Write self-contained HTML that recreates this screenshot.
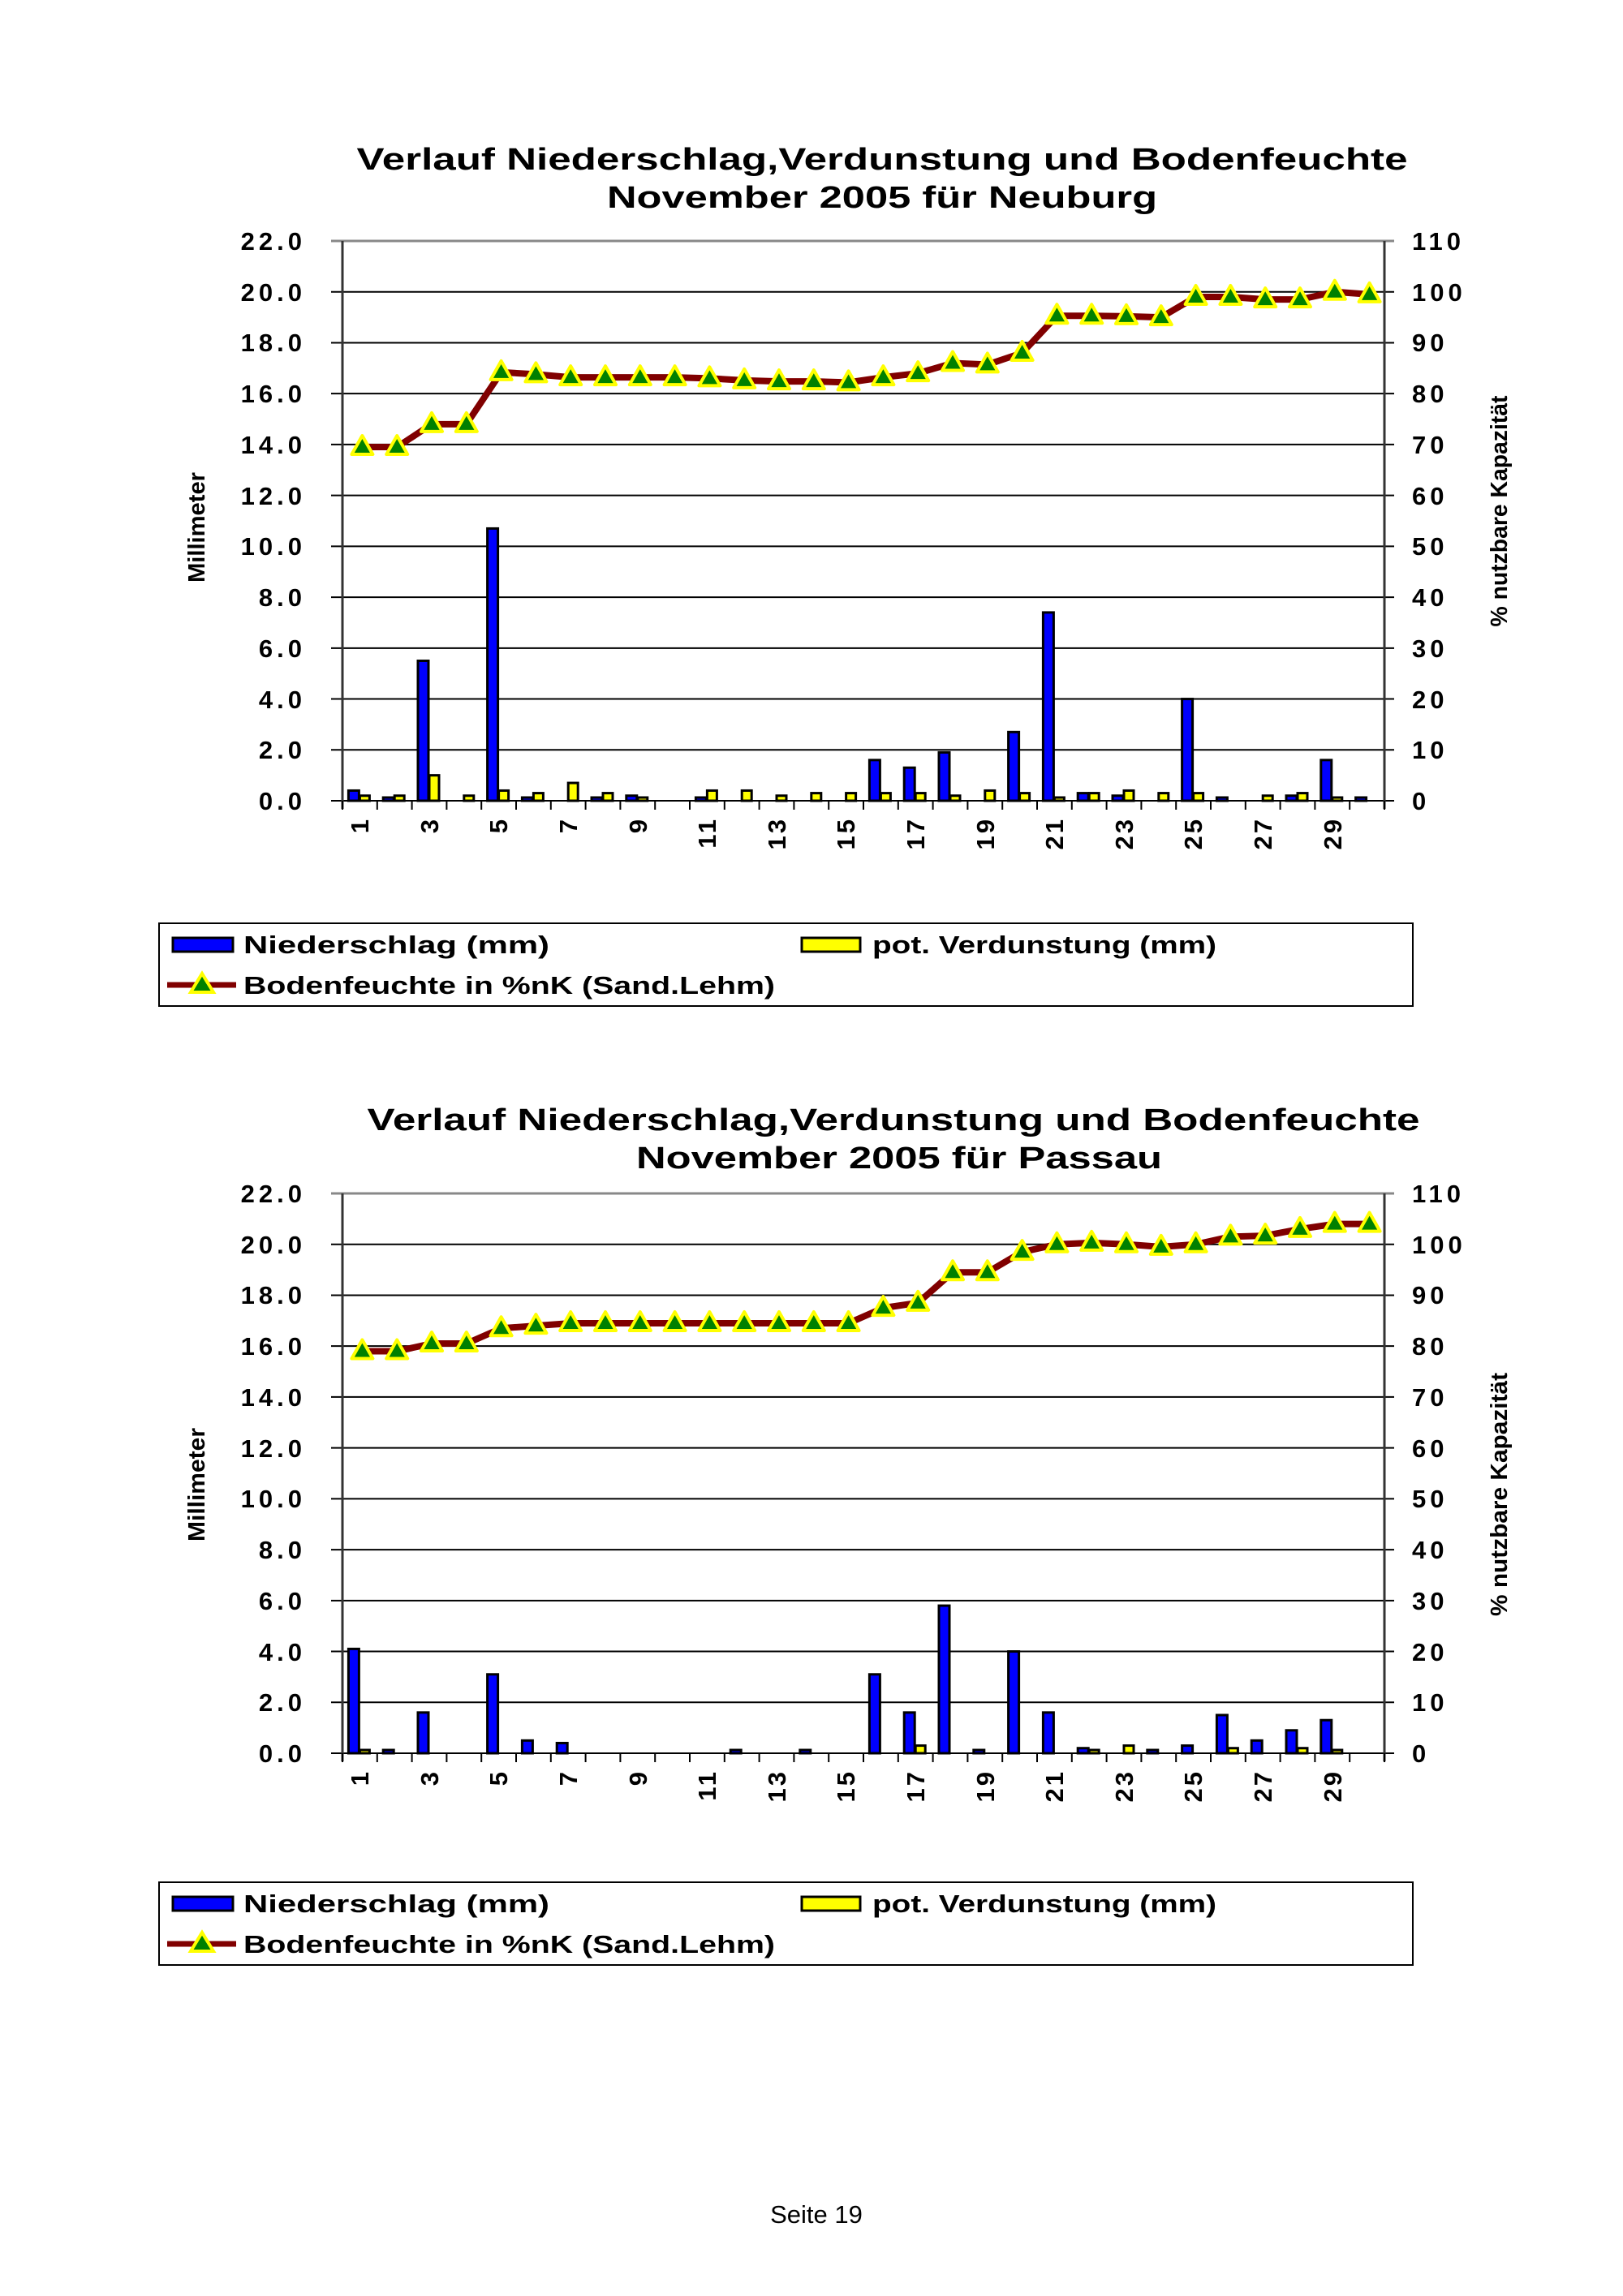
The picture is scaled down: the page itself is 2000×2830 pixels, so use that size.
<!DOCTYPE html>
<html><head><meta charset="utf-8">
<style>
html,body{margin:0;padding:0;background:#fff;}
svg{display:block;}
text{font-family:"Liberation Sans",Arial,sans-serif;}
.b{font-weight:bold;font-size:31px;fill:#000;letter-spacing:5px;}
.r{font-weight:bold;font-size:29px;fill:#000;}
.t{font-weight:bold;font-size:38px;fill:#000;}
.lg{font-weight:bold;font-size:31px;fill:#000;}
</style></head>
<body>
<svg id="s" width="2000" height="2830" viewBox="0 0 2000 2830" xmlns="http://www.w3.org/2000/svg">
<rect width="2000" height="2830" fill="#fff"/>
<g id="c1"></g>
<g id="c2"></g>

<text class="t" x="1087" y="209" text-anchor="middle" textLength="1295" lengthAdjust="spacingAndGlyphs">Verlauf Niederschlag,Verdunstung und Bodenfeuchte</text>
<text class="t" x="1087" y="256" text-anchor="middle" textLength="678" lengthAdjust="spacingAndGlyphs">November 2005 für Neuburg</text>
<g class="b" text-anchor="end">
<text x="377" y="308">22.0</text><text x="377" y="371">20.0</text><text x="377" y="433">18.0</text><text x="377" y="496">16.0</text><text x="377" y="559">14.0</text><text x="377" y="622">12.0</text><text x="377" y="684">10.0</text><text x="377" y="747">8.0</text><text x="377" y="810">6.0</text><text x="377" y="873">4.0</text><text x="377" y="935">2.0</text><text x="377" y="998">0.0</text>
</g>
<g class="b">
<text x="1740" y="308">110</text><text x="1740" y="371">100</text><text x="1740" y="433">90</text><text x="1740" y="496">80</text><text x="1740" y="559">70</text><text x="1740" y="622">60</text><text x="1740" y="684">50</text><text x="1740" y="747">40</text><text x="1740" y="810">30</text><text x="1740" y="873">20</text><text x="1740" y="935">10</text><text x="1740" y="998">0</text>
</g>
<text class="r" transform="translate(252,650) rotate(-90)" text-anchor="middle" textLength="136" lengthAdjust="spacingAndGlyphs">Millimeter</text>
<text class="r" transform="translate(1857,630) rotate(-90)" text-anchor="middle" textLength="285" lengthAdjust="spacingAndGlyphs">% nutzbare Kapazität</text>
<g class="b" text-anchor="end" style="letter-spacing:3px">
<text transform="translate(454,1007) rotate(-90)">1</text>
<text transform="translate(540,1007) rotate(-90)">3</text>
<text transform="translate(625,1007) rotate(-90)">5</text>
<text transform="translate(711,1007) rotate(-90)">7</text>
<text transform="translate(797,1007) rotate(-90)">9</text>
<text transform="translate(882,1007) rotate(-90)">11</text>
<text transform="translate(968,1007) rotate(-90)">13</text>
<text transform="translate(1053,1007) rotate(-90)">15</text>
<text transform="translate(1139,1007) rotate(-90)">17</text>
<text transform="translate(1225,1007) rotate(-90)">19</text>
<text transform="translate(1310,1007) rotate(-90)">21</text>
<text transform="translate(1396,1007) rotate(-90)">23</text>
<text transform="translate(1481,1007) rotate(-90)">25</text>
<text transform="translate(1567,1007) rotate(-90)">27</text>
<text transform="translate(1653,1007) rotate(-90)">29</text>
</g>
<g id="lg1">
<rect x="196" y="1138" width="1545" height="102" fill="none" stroke="#000" stroke-width="2"/>
<rect x="213" y="1156" width="74" height="17" fill="#0000ff" stroke="#000" stroke-width="3"/>
<text class="lg" x="300" y="1175" textLength="377" lengthAdjust="spacingAndGlyphs">Niederschlag (mm)</text>
<rect x="988" y="1156" width="72" height="17" fill="#ffff00" stroke="#000" stroke-width="3"/>
<text class="lg" x="1075" y="1175" textLength="424" lengthAdjust="spacingAndGlyphs">pot. Verdunstung (mm)</text>
<line x1="206" y1="1214" x2="291" y2="1214" stroke="#800000" stroke-width="7"/>
<polygon points="249,1200 263,1223 235,1223" fill="#008000" stroke="#ffff00" stroke-width="4"/>
<text class="lg" x="300" y="1225" textLength="655" lengthAdjust="spacingAndGlyphs">Bodenfeuchte in %nK (Sand.Lehm)</text>
</g>

<text class="t" x="1101" y="1393" text-anchor="middle" textLength="1297" lengthAdjust="spacingAndGlyphs">Verlauf Niederschlag,Verdunstung und Bodenfeuchte</text>
<text class="t" x="1108" y="1440" text-anchor="middle" textLength="648" lengthAdjust="spacingAndGlyphs">November 2005 für Passau</text>
<g transform="translate(0,1174)">
<g class="b" text-anchor="end">
<text x="377" y="308">22.0</text><text x="377" y="371">20.0</text><text x="377" y="433">18.0</text><text x="377" y="496">16.0</text><text x="377" y="559">14.0</text><text x="377" y="622">12.0</text><text x="377" y="684">10.0</text><text x="377" y="747">8.0</text><text x="377" y="810">6.0</text><text x="377" y="873">4.0</text><text x="377" y="935">2.0</text><text x="377" y="998">0.0</text>
</g>
<g class="b">
<text x="1740" y="308">110</text><text x="1740" y="371">100</text><text x="1740" y="433">90</text><text x="1740" y="496">80</text><text x="1740" y="559">70</text><text x="1740" y="622">60</text><text x="1740" y="684">50</text><text x="1740" y="747">40</text><text x="1740" y="810">30</text><text x="1740" y="873">20</text><text x="1740" y="935">10</text><text x="1740" y="998">0</text>
</g>
<text class="r" transform="translate(252,656) rotate(-90)" text-anchor="middle" textLength="140" lengthAdjust="spacingAndGlyphs">Millimeter</text>
<text class="r" transform="translate(1857,668) rotate(-90)" text-anchor="middle" textLength="300" lengthAdjust="spacingAndGlyphs">% nutzbare Kapazität</text>
<g class="b" text-anchor="end" style="letter-spacing:3px">
<text transform="translate(454,1007) rotate(-90)">1</text>
<text transform="translate(540,1007) rotate(-90)">3</text>
<text transform="translate(625,1007) rotate(-90)">5</text>
<text transform="translate(711,1007) rotate(-90)">7</text>
<text transform="translate(797,1007) rotate(-90)">9</text>
<text transform="translate(882,1007) rotate(-90)">11</text>
<text transform="translate(968,1007) rotate(-90)">13</text>
<text transform="translate(1053,1007) rotate(-90)">15</text>
<text transform="translate(1139,1007) rotate(-90)">17</text>
<text transform="translate(1225,1007) rotate(-90)">19</text>
<text transform="translate(1310,1007) rotate(-90)">21</text>
<text transform="translate(1396,1007) rotate(-90)">23</text>
<text transform="translate(1481,1007) rotate(-90)">25</text>
<text transform="translate(1567,1007) rotate(-90)">27</text>
<text transform="translate(1653,1007) rotate(-90)">29</text>
</g>
</g>
<g transform="translate(0,1182)">
<rect x="196" y="1138" width="1545" height="102" fill="none" stroke="#000" stroke-width="2"/>
<rect x="213" y="1156" width="74" height="17" fill="#0000ff" stroke="#000" stroke-width="3"/>
<text class="lg" x="300" y="1175" textLength="377" lengthAdjust="spacingAndGlyphs">Niederschlag (mm)</text>
<rect x="988" y="1156" width="72" height="17" fill="#ffff00" stroke="#000" stroke-width="3"/>
<text class="lg" x="1075" y="1175" textLength="424" lengthAdjust="spacingAndGlyphs">pot. Verdunstung (mm)</text>
<line x1="206" y1="1214" x2="291" y2="1214" stroke="#800000" stroke-width="7"/>
<polygon points="249,1200 263,1223 235,1223" fill="#008000" stroke="#ffff00" stroke-width="4"/>
<text class="lg" x="300" y="1225" textLength="655" lengthAdjust="spacingAndGlyphs">Bodenfeuchte in %nK (Sand.Lehm)</text>
</g>

<text x="1006" y="2740" text-anchor="middle" style="font-size:31px;fill:#000;">Seite 19</text>
</svg>
<script>
(function(){
var NS="http://www.w3.org/2000/svg";
function el(p,n,a){var e=document.createElementNS(NS,n);for(var k in a)e.setAttribute(k,a[k]);p.appendChild(e);return e;}
var L=422,R=1706,T=297,B=987,W=(R-L)/30,U=(B-T)/22;
function draw(id,oy,blue,yel,line){
 var g=document.getElementById(id);g.setAttribute("transform","translate(0,"+oy+")");
 for(var i=0;i<=11;i++){var y=B-i*2*U;
  el(g,"line",{x1:408,y1:y,x2:R+12,y2:y,stroke:i==11?"#888":"#000","stroke-width":i==11?3:2});}
 el(g,"line",{x1:L,y1:T,x2:L,y2:B+10,stroke:"#333","stroke-width":3});
 el(g,"line",{x1:R,y1:T,x2:R,y2:B+10,stroke:"#333","stroke-width":3});
 for(var i=0;i<=30;i++){var x=L+i*W;el(g,"line",{x1:x,y1:B,x2:x,y2:B+11,stroke:"#000","stroke-width":2});}
 for(var i=0;i<30;i++){var c=L+(i+0.5)*W;
  if(blue[i]>0){var h=Math.max(blue[i]*U,4);el(g,"rect",{x:c-14,y:B-h,width:13,height:h,fill:"#0000ff",stroke:"#000","stroke-width":3});}
  if(yel[i]>0){var h=Math.max(yel[i]*U,4);el(g,"rect",{x:c,y:B-h,width:12,height:h,fill:"#ffff00",stroke:"#000","stroke-width":3});}
 }
 var pts=[];for(var i=0;i<30;i++){pts.push((L+(i+0.5)*W+3)+","+(B-line[i]/5*U));}
 el(g,"polyline",{points:pts.join(" "),fill:"none",stroke:"#800000","stroke-width":8,"stroke-linejoin":"round"});
 for(var i=0;i<30;i++){var x=L+(i+0.5)*W+3,y=B-line[i]/5*U;
  el(g,"polygon",{points:x+","+(y-14)+" "+(x+13)+","+(y+9)+" "+(x-13)+","+(y+9),fill:"#008000",stroke:"#ffff00","stroke-width":4,"stroke-linejoin":"round"});}
}
draw("c1",0,
[0.4,0.1,5.5,0,10.7,0.1,0,0.1,0.2,0,0.1,0,0,0,0,1.6,1.3,1.9,0,2.7,7.4,0.3,0.2,0,4.0,0.1,0,0.2,1.6,0.1],
[0.2,0.2,1.0,0.2,0.4,0.3,0.7,0.3,0.1,0,0.4,0.4,0.2,0.3,0.3,0.3,0.3,0.2,0.4,0.3,0.1,0.3,0.4,0.3,0.3,0,0.2,0.3,0.1,0],
[69.5,69.5,74,74,84.2,83.8,83.2,83.2,83.2,83.2,83,82.6,82.4,82.4,82.2,83.2,84,86,85.7,88,95.3,95.3,95.2,95,99,99,98.5,98.5,100,99.5]);
draw("c2",1174,
[4.1,0.1,1.6,0,3.1,0.5,0.4,0,0,0,0,0.05,0,0.05,0,3.1,1.6,5.8,0.05,4.0,1.6,0.2,0,0.1,0.3,1.5,0.5,0.9,1.3,0],
[0.05,0,0,0,0,0,0,0,0,0,0,0,0,0,0,0,0.3,0,0,0,0,0.05,0.3,0,0,0.2,0,0.2,0.05,0],
[79,79,80.5,80.5,83.5,84,84.5,84.5,84.5,84.5,84.5,84.5,84.5,84.5,84.5,87.5,88.5,94.5,94.5,98.5,100,100.3,100,99.5,100,101.5,101.7,103,104,104]);
})();
</script>
</body></html>
